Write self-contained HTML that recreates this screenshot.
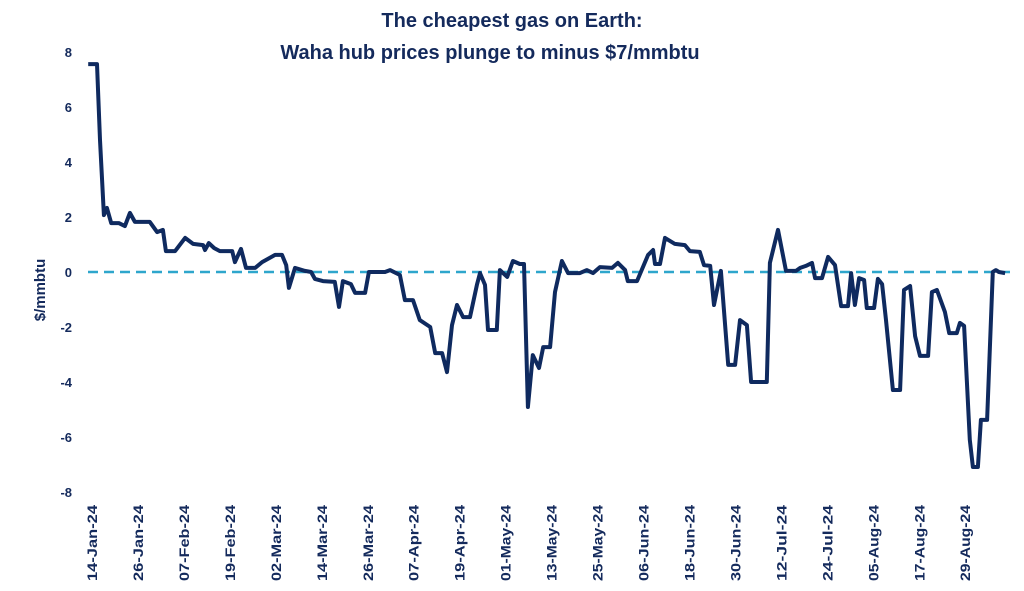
<!DOCTYPE html>
<html><head><meta charset="utf-8"><style>
body{margin:0;background:#fff;}
svg text{font-family:"Liberation Sans",sans-serif;fill:#142a5c;font-weight:bold;}
</style></head><body>
<svg id="chart" width="1024" height="586" viewBox="0 0 1024 586" xmlns="http://www.w3.org/2000/svg">
<text x="512" y="27" text-anchor="middle" font-size="20">The cheapest gas on Earth:</text>
<text x="490" y="59" text-anchor="middle" font-size="20">Waha hub prices plunge to minus $7/mmbtu</text>
<text transform="translate(45,290) rotate(-90)" text-anchor="middle" font-size="15">$/mmbtu</text>
<g id="yticks"></g><g id="xticks"></g>
<line id="zero" x1="88" x2="1010" stroke="#2ea6cc" stroke-width="2.5" stroke-dasharray="10,6"/>
<path id="series" fill="none" stroke="#0f2a5f" stroke-width="4" stroke-linejoin="round"/>
</svg>
<script>
const yTicks=[8,6,4,2,0,-2,-4,-6,-8];
const xLabels=["14-Jan-24","26-Jan-24","07-Feb-24","19-Feb-24","02-Mar-24","14-Mar-24","26-Mar-24","07-Apr-24","19-Apr-24","01-May-24","13-May-24","25-May-24","06-Jun-24","18-Jun-24","30-Jun-24","12-Jul-24","24-Jul-24","05-Aug-24","17-Aug-24","29-Aug-24"];
const days=[-1,1.3,2.1,3.1,3.9,5,7,8.6,9.9,11.2,15.1,17,18.5,19.3,21.7,24.3,26.4,29,29.5,30.5,31.9,33.4,36.6,37.3,38.9,40.2,42.6,44.4,47.8,49.6,50.7,51.4,53,55.6,57.2,58.2,60.3,63.4,64.5,65.5,67.6,68.7,71.3,72.3,76.5,77.8,80.4,81.7,83.8,85.6,88.3,89.6,91.4,92.7,94,95.3,96.9,98.7,100.5,101.3,102.6,103.4,105.7,106.5,108.4,109.9,111.7,112.8,113.8,115.1,116.7,117.8,119.6,120.9,122.7,124.3,127.4,129.2,130.8,132.6,135.8,137.3,139.2,139.9,142.3,145.2,146.5,147,148.3,149.6,152.2,154.8,156.1,158.7,159.8,161.4,162.4,164.2,166.1,167.9,169.2,171,172.1,176.2,177,179.1,181.2,183.8,184.9,186.4,188,188.8,190.6,192.2,194,195.6,197.4,198.2,199.2,200.3,201.6,202.3,204.2,205.2,206.3,207.3,209.1,211,212,213.6,214.9,216.2,218.3,219.3,220.6,222.7,223.8,225.8,226.6,227.7,229.2,230,231.3,232.1,233.7,235.2,236,236.8,238.4];
const prices=[7.56,7.56,4.8,2.07,2.33,1.78,1.78,1.67,2.15,1.82,1.82,1.45,1.53,0.76,0.76,1.24,1.02,0.98,0.8,1.05,0.87,0.76,0.76,0.36,0.84,0.15,0.15,0.36,0.62,0.62,0.25,-0.58,0.15,0.04,0,-0.25,-0.33,-0.36,-1.27,-0.33,-0.44,-0.76,-0.76,0,0,0.07,-0.11,-1.02,-1.02,-1.75,-2,-2.95,-2.95,-3.64,-1.93,-1.2,-1.64,-1.64,-0.47,-0.04,-0.47,-2.11,-2.11,0.07,-0.18,0.4,0.29,0.29,-4.91,-3.02,-3.49,-2.73,-2.73,-0.73,0.4,-0.04,-0.04,0.07,-0.04,0.18,0.15,0.33,0.07,-0.33,-0.33,0.62,0.8,0.29,0.29,1.24,1.02,0.98,0.76,0.73,0.25,0.22,-1.2,0.04,-3.38,-3.38,-1.75,-1.93,-4,-4,0.33,1.53,0.04,0.04,0.15,0.22,0.33,-0.22,-0.22,0.55,0.25,-1.24,-1.24,-0.04,-1.2,-0.22,-0.29,-1.31,-1.31,-0.25,-0.44,-1.75,-4.29,-4.29,-0.65,-0.51,-2.33,-3.05,-3.05,-0.73,-0.65,-1.45,-2.22,-2.22,-1.85,-1.96,-6.1,-7.09,-7.09,-5.38,-5.38,0,0.07,0,-0.04];
const NS="http://www.w3.org/2000/svg";
const xS=d=>92+d*3.83;
const yS=v=>272-v*27.5;
const yg=document.getElementById('yticks');
yTicks.forEach(t=>{const e=document.createElementNS(NS,'text');


e.setAttribute('x',72);e.setAttribute('y',yS(t)+5);e.setAttribute('text-anchor','end');e.setAttribute('font-size','13');e.textContent=t;yg.appendChild(e);});
const xg=document.getElementById('xticks');
xLabels.forEach((l,i)=>{const e=document.createElementNS(NS,'text');


const x=xS(i*12)+5;e.setAttribute('transform','translate('+x+',505) rotate(-90)');e.setAttribute('text-anchor','end');e.setAttribute('font-size','14');e.setAttribute('textLength','76');e.setAttribute('lengthAdjust','spacingAndGlyphs');e.textContent=l;xg.appendChild(e);});
const z=document.getElementById('zero');z.setAttribute('y1',yS(0));z.setAttribute('y2',yS(0));
document.getElementById('series').setAttribute('d',days.map((d,i)=>(i?'L':'M')+xS(d).toFixed(1)+','+yS(prices[i]).toFixed(1)).join(''));
</script>
</body></html>
